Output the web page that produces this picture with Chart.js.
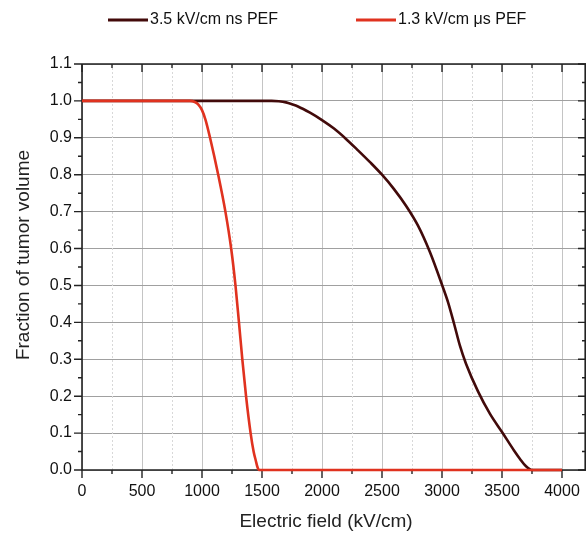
<!DOCTYPE html>
<html>
<head>
<meta charset="utf-8">
<script src="https://cdn.jsdelivr.net/npm/chart.js@4/dist/chart.umd.min.js"></script>
<style>
  html, body { margin: 0; padding: 0; background: #fff; }
  #wrap { position: relative; width: 586px; height: 534px; }
</style>
</head>
<body>
<div id="wrap"><canvas id="c" width="586" height="534"></canvas></div>
<script>
// ---- data ----
const seriesNames = ["3.5 kV/cm ns PEF", "1.3 kV/cm \u03bcs PEF"];
const nsX = [0, 1580, 1640, 1700, 1750, 1800, 1900, 2000, 2100, 2200, 2300, 2400, 2500, 2600, 2700, 2800, 2900, 3000, 3050, 3100, 3150, 3200, 3300, 3400, 3500, 3600, 3650, 3700, 3750, 4000];
const nsY = [1, 1, 0.999, 0.996, 0.991, 0.985, 0.968, 0.948, 0.925, 0.897, 0.866, 0.834, 0.800, 0.761, 0.716, 0.662, 0.590, 0.502, 0.455, 0.397, 0.336, 0.288, 0.213, 0.152, 0.103, 0.053, 0.030, 0.010, 0, 0];
const usX = [0, 900, 940, 970, 1000, 1030, 1067, 1135, 1195, 1243, 1279, 1308, 1336, 1367, 1405, 1430, 1447, 1462, 1475, 4000];
const usY = [1, 1, 0.997, 0.99, 0.975, 0.948, 0.9, 0.8, 0.7, 0.6, 0.5, 0.4, 0.3, 0.2, 0.1, 0.05, 0.027, 0.008, 0, 0];
const xTickValues = [0, 500, 1000, 1500, 2000, 2500, 3000, 3500, 4000];
const yTickValues = [0, 0.1, 0.2, 0.3, 0.4, 0.5, 0.6, 0.7, 0.8, 0.9, 1.0, 1.1];
const xTitle = "Electric field (kV/cm)";
const yTitle = "Fraction of tumor volume";
const colors = ["#420a0a", "#e0321f"];

const FONT = '"Liberation Sans", Arial, sans-serif';
const toPts = (xs, ys) => xs.map((x, i) => ({ x: x, y: ys[i] }));

const decor = {
  id: 'decor',
  beforeDatasetsDraw(chart) {
    const ctx = chart.ctx, a = chart.chartArea;
    const xs = chart.scales.x, ys = chart.scales.y;
    ctx.save();
    // minor vertical dotted grid
    ctx.strokeStyle = '#d8d8d8';
    ctx.lineWidth = 1;
    ctx.setLineDash([2, 2]);
    for (let i = 0; i < xTickValues.length; i++) {
      const v = xTickValues[i] + 250;
      const px = Math.round(xs.getPixelForValue(v)) + 0.5;
      ctx.beginPath(); ctx.moveTo(px, a.top); ctx.lineTo(px, a.bottom); ctx.stroke();
    }
    ctx.setLineDash([]);
    // frame
    ctx.strokeStyle = '#222';
    ctx.lineWidth = 1.6;
    ctx.beginPath();
    ctx.moveTo(a.left, a.top); ctx.lineTo(a.right, a.top);
    ctx.moveTo(a.right - 0.8, a.top); ctx.lineTo(a.right - 0.8, a.bottom);
    ctx.moveTo(a.left, a.top); ctx.lineTo(a.left, a.bottom + 0.5);
    ctx.moveTo(a.left - 0.5, a.bottom); ctx.lineTo(a.right, a.bottom);
    ctx.stroke();
    // x ticks: bottom outward, top inward (major + minor)
    ctx.lineWidth = 1.4;
    xTickValues.forEach(v => {
      [[v, 8], [v + 250, 4]].forEach(([t, len]) => {
        const px = xs.getPixelForValue(t);
        ctx.beginPath();
        ctx.moveTo(px, a.bottom); ctx.lineTo(px, a.bottom + len);
        ctx.moveTo(px, a.top); ctx.lineTo(px, a.top + len);
        ctx.stroke();
      });
    });
    // y ticks: left outward, right inward (major + minor)
    yTickValues.forEach((v, i) => {
      const list = [[v, 8]];
      if (i < yTickValues.length - 1) list.push([v + 0.05, 4]);
      list.forEach(([t, len]) => {
        const py = ys.getPixelForValue(t);
        ctx.beginPath();
        ctx.moveTo(a.left, py); ctx.lineTo(a.left - len, py);
        ctx.moveTo(a.right, py); ctx.lineTo(a.right - len, py);
        ctx.stroke();
      });
    });
    ctx.restore();
  },
  afterDraw(chart) {
    const ctx = chart.ctx;
    ctx.save();
    ctx.fillStyle = '#222';
    // axis titles
    ctx.font = '19px ' + FONT;
    ctx.textAlign = 'center';
    ctx.textBaseline = 'middle';
    ctx.fillText(xTitle, 326, 522);
    ctx.save();
    ctx.translate(24, 255);
    ctx.rotate(-Math.PI / 2);
    ctx.fillText(yTitle, 0, 0);
    ctx.restore();
    // legend
    const items = [{ x: 108, tx: 150 }, { x: 356, tx: 398 }];
    ctx.font = '16px ' + FONT;
    ctx.textAlign = 'left';
    items.forEach((it, i) => {
      ctx.strokeStyle = colors[i];
      ctx.lineWidth = 3;
      ctx.beginPath(); ctx.moveTo(it.x, 20); ctx.lineTo(it.x + 40, 20); ctx.stroke();
      ctx.fillStyle = '#111';
      ctx.fillText(chart.data.datasets[i].label, it.tx, 20);
    });
    ctx.restore();
  }
};

new Chart(document.getElementById('c'), {
  type: 'scatter',
  data: {
    datasets: [
      { label: seriesNames[0], data: toPts(nsX, nsY), showLine: true, borderColor: colors[0], borderWidth: 2.6, pointRadius: 0, cubicInterpolationMode: 'monotone', clip: false, order: 2 },
      { label: seriesNames[1], data: toPts(usX, usY), showLine: true, borderColor: colors[1], borderWidth: 2.6, pointRadius: 0, cubicInterpolationMode: 'monotone', clip: false, order: 1 }
    ]
  },
  options: {
    responsive: false,
    animation: false,
    devicePixelRatio: 1,
    layout: { padding: { top: 64, left: 0, right: 0, bottom: 0 }, autoPadding: false },
    plugins: { legend: { display: false }, tooltip: { enabled: false } },
    scales: {
      x: {
        type: 'linear', min: 0, max: 4200,
        afterFit(s) { s.height = 64; s.paddingLeft = 0; s.paddingRight = 0; },
        afterBuildTicks(s) { s.ticks = xTickValues.map(v => ({ value: v })); },
        border: { display: false },
        grid: { color: '#c4c4c4', lineWidth: 1, drawTicks: false },
        ticks: { padding: 12, color: '#111', font: { family: FONT, size: 16 }, maxRotation: 0, autoSkip: false, callback: v => String(v) }
      },
      y: {
        type: 'linear', min: 0, max: 1.1,
        afterFit(s) { s.width = 82; s.paddingTop = 0; s.paddingBottom = 0; },
        afterBuildTicks(s) { s.ticks = yTickValues.map(v => ({ value: v })); },
        border: { display: false },
        grid: { color: '#a0a0a0', lineWidth: 1, drawTicks: false },
        ticks: { padding: 10, color: '#111', font: { family: FONT, size: 16 }, autoSkip: false, callback: v => Number(v).toFixed(1) }
      }
    }
  },
  plugins: [decor]
});
</script>
</body>
</html>
